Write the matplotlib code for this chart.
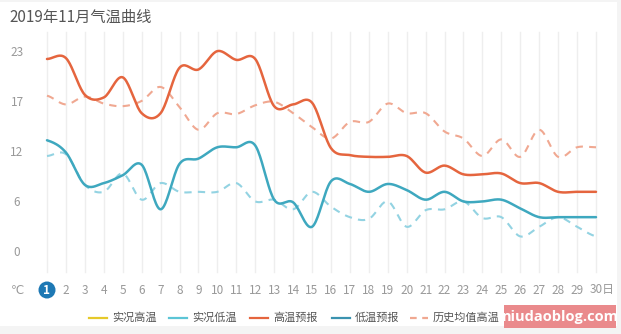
import numpy as np
import matplotlib.pyplot as plt
from matplotlib.lines import Line2D
from matplotlib.patches import Rectangle, Circle

plt.rcParams['font.family'] = ['Noto Sans CJK SC', 'DejaVu Sans']

# 11月每日气温 (℃)
days = np.arange(1, 31)
high_fc = [22.2, 22.3, 18.1, 17.8, 20.1, 16.0, 16.0, 21.2, 21.0, 23.1,
           22.1, 22.2, 16.8, 17.0, 17.2, 12.0, 11.2, 11.0, 11.0, 11.1,
           9.2, 10.0, 9.0, 9.0, 9.1, 8.0, 8.0, 7.0, 7.0, 7.0]
low_fc = [12.9, 11.5, 7.8, 8.0, 8.9, 10.1, 5.0, 10.2, 10.8, 12.1,
          12.1, 12.3, 6.1, 5.8, 3.0, 8.2, 7.9, 7.0, 7.9, 7.2,
          6.1, 7.0, 5.9, 5.9, 6.1, 5.1, 4.1, 4.1, 4.1, 4.1]
hist_high = [18.0, 17.0, 17.9, 17.1, 16.8, 17.4, 19.0, 16.7, 14.1, 16.0,
             15.9, 16.9, 17.3, 16.0, 14.4, 13.1, 15.0, 15.0, 17.1, 16.0,
             16.0, 13.9, 13.1, 11.1, 13.0, 11.0, 14.1, 11.0, 12.1, 12.1]
hist_low = [11.1, 11.3, 7.8, 7.0, 9.1, 6.1, 8.0, 7.0, 7.0, 7.0,
            8.0, 5.9, 6.1, 5.0, 7.0, 5.3, 4.1, 3.9, 5.9, 3.0,
            4.9, 5.0, 5.9, 4.0, 4.1, 1.9, 3.0, 4.1, 3.0, 1.9]

y_ticks = [0, 5.75, 11.5, 17.25, 23]
y_labels = ['0', '6', '12', '17', '23']
legend_names = ['实况高温', '实况低温', '高温预报', '低温预报', '历史均值高温']

c_red = '#e5653e'
c_blue = '#3ea8bf'
c_red_d = '#f0a891'
c_blue_d = '#93d3e2'
c_yellow = '#e6c92a'
c_blue_l = '#5cc5d6'
c_blue_k = '#3b93b0'


def smooth(x, y, n=20):
    # Catmull-Rom 曲线平滑
    x = np.asarray(x, float)
    y = np.asarray(y, float)
    xs, ys = [], []
    for i in range(len(x) - 1):
        y0 = y[i - 1] if i > 0 else y[i]
        y3 = y[i + 2] if i + 2 < len(y) else y[i + 1]
        m1 = (y[i + 1] - y0) / 2
        m2 = (y3 - y[i]) / 2
        t = np.linspace(0, 1, n, endpoint=False)
        h00 = 2 * t**3 - 3 * t**2 + 1
        h10 = t**3 - 2 * t**2 + t
        h01 = -2 * t**3 + 3 * t**2
        h11 = t**3 - t**2
        xs.append(x[i] + t * (x[i + 1] - x[i]))
        ys.append(h00 * y[i] + h10 * m1 + h01 * y[i + 1] + h11 * m2)
    xs.append([x[-1]])
    ys.append([y[-1]])
    return np.concatenate(xs), np.concatenate(ys)


W, H = 621, 334
fig = plt.figure(figsize=(W / 100, H / 100), dpi=100, facecolor='#f4f4f4')
fig.patches.append(Rectangle((0, 8 / H), 617 / W, 324 / H, transform=fig.transFigure,
                             facecolor='white', edgecolor='none', zorder=-5))

# 坐标区: 第1天在 x=47px, 第30天在 x=596px; 0 在 y=253px, 23 在 y=52px
px_per = (253 - 52) / 23
y_top = 23 + (52 - 32) / px_per
y_bot = -(272 - 253) / px_per
ax = fig.add_axes([47 / W, (H - 272) / H, (596 - 47) / W, (272 - 32) / H])
ax.set_facecolor('none')
ax.set_xlim(1, 30)
ax.set_ylim(y_bot, y_top)
for s in ax.spines.values():
    s.set_visible(False)
ax.set_xticks([])
ax.set_yticks([])
for d in days:
    ax.axvline(d, color='#eeeeee', lw=1, zorder=0, clip_on=False)

for vals, col, ls, lw in [(hist_high, c_red_d, (0, (3.5, 3)), 1.5),
                          (hist_low, c_blue_d, (0, (3.5, 3)), 1.5),
                          (high_fc, c_red, '-', 1.8),
                          (low_fc, c_blue, '-', 1.8)]:
    sx, sy = smooth(days, vals)
    ax.plot(sx, sy, color=col, ls=ls, lw=lw, clip_on=False, solid_capstyle='round')

# y 轴标签
ytr = ax.get_yaxis_transform()
for v, lab in zip(y_ticks, y_labels):
    ax.text(-30 / 549, v, lab, transform=ytr, ha='center', va='center',
            fontsize=8.5, color='#999999')

# x 轴标签
xtr = ax.get_xaxis_transform()
ylab = -18 / 240
for d in days:
    lab = str(d) + ('日' if d == 30 else '')
    if d == 1:
        ax.add_patch(Circle((47, H - 290), 8.5, transform=None, facecolor='#1d78b4',
                            edgecolor='none', clip_on=False))
        ax.text(d, ylab, lab, transform=xtr, ha='center', va='center',
                fontsize=8.5, color='white', fontweight='bold')
    elif d == 30:
        ax.text(590 / W, (H - 290) / H, lab, transform=fig.transFigure, ha='left',
                va='center', fontsize=8.5, color='#999999')
    else:
        ax.text(d, ylab, lab, transform=xtr, ha='center', va='center',
                fontsize=8.5, color='#999999')
fig.text(18 / W, (H - 290) / H, '℃', ha='center', va='center', fontsize=8.5,
         color='#999999', family=['DejaVu Sans'])

# 标题
fig.text(9 / W, (H - 17) / H, '2019年11月气温曲线', ha='left', va='center',
         fontsize=11, color='#555555')

# 图例
leg_y = (H - 318) / H
leg_items = [(89, c_yellow, '-'), (169, c_blue_l, '-'), (250, c_red, '-'),
             (332, c_blue_k, '-'), (410, c_red_d, (0, (3, 2.5)))]
for (x0, col, ls), name in zip(leg_items, legend_names):
    fig.add_artist(Line2D([x0 / W, (x0 + 18) / W], [leg_y, leg_y], color=col,
                          lw=1.6, ls=ls, transform=fig.transFigure))
    fig.text((x0 + 23) / W, leg_y, name, ha='left', va='center', fontsize=8,
             color='#555555')

# 水印
fig.patches.append(Rectangle((504 / W, (H - 328) / H), 112 / W, 23 / H,
                             transform=fig.transFigure, facecolor='#ea8a8c',
                             edgecolor='none', zorder=5))
fig.text(560 / W, (H - 317) / H, 'niudaoblog.com', ha='center', va='center',
         fontsize=10.5, color='white', fontweight='bold', zorder=6,
         family=['Open Sans', 'DejaVu Sans'])

fig.savefig('out.png', dpi=100, facecolor=fig.get_facecolor())
